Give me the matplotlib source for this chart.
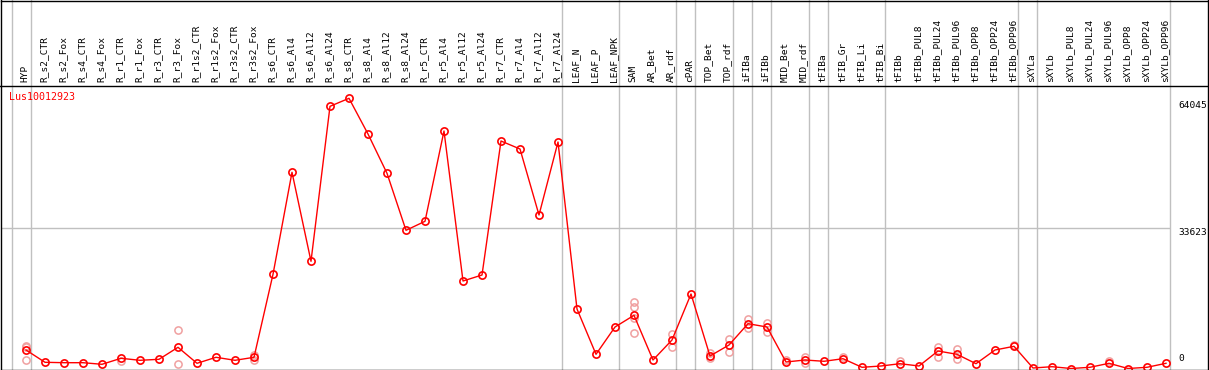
import matplotlib
matplotlib.use("Agg")
import matplotlib.pyplot as plt
from matplotlib.lines import Line2D

# ---------------- data ----------------
categories = [
    "HYP", "R_s2_CTR", "R_s2_Fox", "R_s4_CTR", "R_s4_Fox", "R_r1_CTR", "R_r1_Fox",
    "R_r3_CTR", "R_r3_Fox", "R_r1s2_CTR", "R_r1s2_Fox", "R_r3s2_CTR", "R_r3s2_Fox",
    "R_s6_CTR", "R_s6_Al4", "R_s6_Al12", "R_s6_Al24", "R_s8_CTR", "R_s8_Al4",
    "R_s8_Al12", "R_s8_Al24", "R_r5_CTR", "R_r5_Al4", "R_r5_Al12", "R_r5_Al24",
    "R_r7_CTR", "R_r7_Al4", "R_r7_Al12", "R_r7_Al24", "LEAF_N", "LEAF_P", "LEAF_NPK",
    "SAM", "AR_Bet", "AR_rdf", "cPAR", "TOP_Bet", "TOP_rdf", "iFIBa", "iFIBb",
    "MID_Bet", "MID_rdf", "tFIBa", "tFIB_Gr", "tFIB_Li", "tFIB_Bi", "tFIBb",
    "tFIBb_PUL8", "tFIBb_PUL24", "tFIBb_PUL96", "tFIBb_OPP8", "tFIBb_OPP24",
    "tFIBb_OPP96", "sXYLa", "sXYLb", "sXYLb_PUL8", "sXYLb_PUL24", "sXYLb_PUL96",
    "sXYLb_OPP8", "sXYLb_OPP24", "sXYLb_OPP96",
]

mean_values = [
    4436, 1487, 1391, 1391, 1007, 2446, 1966, 2206, 5084, 1247, 2686, 1966, 2686,
    22589, 47049, 25707, 62876, 64794, 56233, 46809, 33140, 35299, 56953, 20983,
    22421, 54555, 52636, 36809, 54315, 14268, 3405, 9952, 12757, 2038, 6834, 17865,
    2998, 5635, 10743, 9952, 1559, 2038, 1727, 2350, 288, 600, 1151, 600, 4197,
    3405, 1151, 4436, 5324, 120, 432, 0, 288, 1247, 0, 288, 1247,
]

# individual replicates (category index, value)
rep_index = [0, 0, 0, 5, 8, 8, 12, 12, 32, 32, 32, 32, 34, 34, 36, 36, 37, 37,
             38, 38, 39, 39, 40, 41, 41, 43, 46, 48, 48, 49, 49, 52, 57]
rep_values = [5228, 5468, 2038, 1799, 9160, 1007, 3165, 2038, 16019, 14820, 12182,
              8441, 8273, 5228, 3645, 2446, 7002, 3885, 11870, 9640, 10983, 8825,
              2038, 2686, 1247, 2758, 1799, 5228, 2830, 4604, 2206, 5635, 1679]

# group separators: drawn after these category indices
separators_after = [-1, 0, 28, 31, 34, 35, 37, 38, 39, 41, 42, 45, 52, 53, 60]

ytick_values = [64045, 33623, 0]
gene_label = "Lus10012923"

# ---------------- layout ----------------
W, H = 1209, 370
fig = plt.figure(figsize=(W / 100, H / 100), dpi=100)
fig.patch.set_facecolor("white")

# pixel geometry (image coordinates, y downward)
px_left, px_right = 1.0, 1170.5
py_top, py_bottom = 85.0, 369.0
x0_px, dx_px = 26.0, 19.0          # first category centre, category spacing
y0_px, k_px = 368.5, 0.00417       # value 0 position, pixels per unit

ax = fig.add_axes([px_left / W, (H - py_bottom) / H,
                   (px_right - px_left) / W, (py_bottom - py_top) / H])
ax.set_xlim((px_left - x0_px) / dx_px, (px_right - x0_px) / dx_px)
ax.set_ylim((y0_px - py_bottom) / k_px, (y0_px - py_top) / k_px)
for s in ax.spines.values():
    s.set_visible(False)
ax.set_xticks([])
ax.set_yticks([])
ax.patch.set_alpha(0)

grey = "#c0c0c0"
# vertical separators (extend through the header)
ext = (py_bottom - 0) / (py_bottom - py_top)
offset = (30.5 - x0_px) / dx_px
for i in separators_after:
    ax.axvline(i + offset, ymin=0, ymax=ext, color=grey, lw=1.0,
               clip_on=False, zorder=1)

# horizontal grid line at middle tick
ax.axhline(ytick_values[1], color=grey, lw=1.0, zorder=1)

xs = list(range(len(categories)))
ax.plot(rep_index, rep_values, linestyle="none", marker="o", markersize=5.2,
        markerfacecolor="none", markeredgecolor="#f0a0a0", markeredgewidth=1.1,
        zorder=2)
ax.plot(xs, mean_values, color="red", lw=1.0, marker="o", markersize=5.2,
        markerfacecolor="none", markeredgecolor="red", markeredgewidth=1.2,
        zorder=3)

mono = "DejaVu Sans Mono"
# category labels in the header
trans = ax.get_xaxis_transform()
y_lab = (py_bottom - 82.0) / (py_bottom - py_top)
for i, lab in enumerate(categories):
    ax.text(i - 0.07, y_lab, lab, rotation=90, ha="center", va="bottom",
            fontsize=6.8, family=mono, transform=trans, clip_on=False)

# right-hand value labels
ytrans = ax.get_yaxis_transform()
xr = (1178.0 - px_left) / (px_right - px_left)
for v in ytick_values:
    if v == 0:
        ax.text(xr, 0.02, str(v), ha="left", va="bottom", fontsize=6.8,
                family=mono, transform=ax.transAxes, clip_on=False)
    else:
        ax.text(xr, v, str(v), ha="left", va="top", fontsize=6.8,
                family=mono, transform=ytrans, clip_on=False)

# gene label
ax.text((9.0 - px_left) / (px_right - px_left), (py_bottom - 97.5) / (py_bottom - py_top),
        gene_label, color="red", fontsize=7.2, family=mono, ha="left",
        va="center", transform=ax.transAxes)

# frame lines
def fl(x1, y1, x2, y2):
    fig.add_artist(Line2D([x1 / W, x2 / W], [1 - y1 / H, 1 - y2 / H],
                          color="black", lw=1.0, transform=fig.transFigure))

fl(0.5, 0.5, 1207.5, 0.5)
fl(0.5, 369.5, 1207.5, 369.5)
fl(1.0, 0, 1.0, 370)
fl(1207.5, 0, 1207.5, 370)
fl(0, 85.5, 1208, 85.5)

fig.savefig("out.png", dpi=100)
